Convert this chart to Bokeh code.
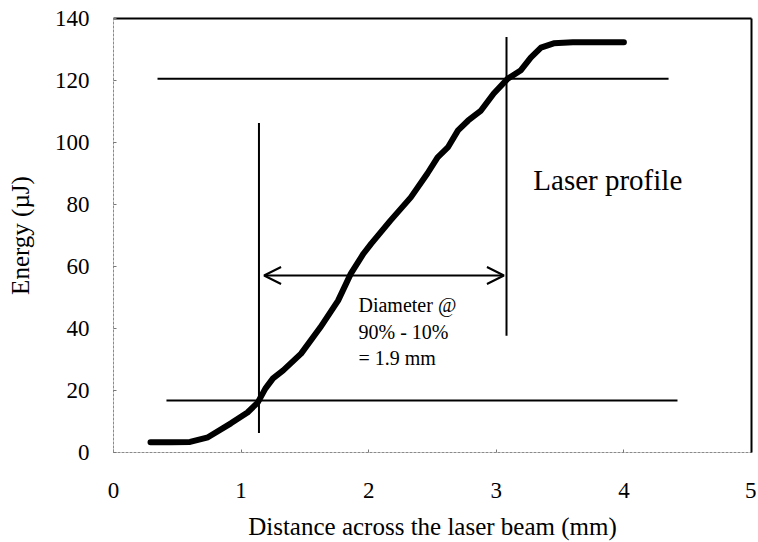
from bokeh.plotting import figure
from bokeh.models import (LinearAxis, FixedTicker, Range1d, Arrow, OpenHead,
                          Label)
from bokeh.embed import file_html
from bokeh.resources import INLINE

# ---- data ----
dist_mm = [0.29, 0.45, 0.60, 0.74, 0.92, 1.05, 1.13, 1.19, 1.25, 1.33, 1.47,
           1.62, 1.76, 1.86, 1.96, 2.02, 2.17, 2.33, 2.46, 2.54, 2.62, 2.70,
           2.78, 2.88, 2.98, 3.09, 3.19, 3.27, 3.35, 3.45, 3.60, 4.00]
energy_uj = [3.3, 3.3, 3.4, 4.9, 9.4, 12.9, 16.1, 20.6, 23.9, 26.5, 31.9,
             40.3, 49.0, 57.7, 64.2, 67.4, 74.8, 82.3, 90.0, 95.2, 98.4, 103.9,
             107.1, 110.3, 115.8, 120.6, 123.2, 127.4, 130.6, 132.0, 132.3, 132.3]

# 90 % and 10 % levels (horizontal guide lines)
level_y = [120.6, 16.8]
level_x0 = [0.345, 0.415]
level_x1 = [4.35, 4.42]

# vertical guide lines at the crossing points
cross_x = [1.14, 3.08]
cross_y0 = [6.3, 37.7]
cross_y1 = [106.3, 134.0]

# diameter arrow
arrow_x = [1.18, 3.06]
arrow_y = 57.1

x_ticks = [0, 1, 2, 3, 4, 5]
y_ticks = [0, 20, 40, 60, 80, 100, 120, 140]

FONT = "serif"

p = figure(width=756, height=542, output_backend="svg", toolbar_location=None,
           x_range=Range1d(0, 5), y_range=Range1d(0, 140),
           min_border_left=113, min_border_right=5, min_border_top=18,
           min_border_bottom=90)
p.grid.visible = False
p.outline_line_color = None
p.background_fill_color = "white"
p.border_fill_color = "white"

# left / bottom axes
for ax, ticks in ((p.xaxis[0], x_ticks), (p.yaxis[0], y_ticks)):
    ax.ticker = FixedTicker(ticks=ticks)
    ax.axis_line_color = "#8a8a8a"
    ax.axis_line_width = 1
    ax.axis_line_dash = "3 1"
    ax.major_tick_in = 3
    ax.major_tick_out = 0
    ax.major_tick_line_color = "#777777"
    ax.minor_tick_line_color = None
    ax.major_label_text_font = FONT
    ax.major_label_text_font_size = "23px"
    ax.major_label_text_color = "black"
    ax.axis_label_text_font = FONT
    ax.axis_label_text_font_size = "25px"
    ax.axis_label_text_font_style = "normal"
    ax.axis_label_text_color = "black"

p.xaxis.axis_label = "Distance across the laser beam (mm)"
p.yaxis.axis_label = "Energy (\u00b5J)"
p.xaxis.major_label_standoff = 30
p.xaxis.axis_label_standoff = 12
p.yaxis.major_label_standoff = 24
p.yaxis.axis_label_standoff = 18

# top / right frame lines
for loc in ("above", "right"):
    ax = LinearAxis(ticker=FixedTicker(ticks=[]), axis_line_color="black",
                    axis_line_width=2, major_tick_line_color=None,
                    minor_tick_line_color=None,
                    major_label_text_font_size="0px")
    p.add_layout(ax, loc)

# guide lines
p.segment(x0=level_x0, y0=level_y, x1=level_x1, y1=level_y,
          line_color="black", line_width=2)
p.segment(x0=cross_x, y0=cross_y0, x1=cross_x, y1=cross_y1,
          line_color="black", line_width=2)

# profile curve
p.line(dist_mm, energy_uj, line_color="black", line_width=6,
       line_join="round", line_cap="round")

# double arrow
p.add_layout(Arrow(x_start=arrow_x[0], y_start=arrow_y,
                   x_end=arrow_x[1], y_end=arrow_y,
                   line_color="black", line_width=2,
                   start=OpenHead(size=17, line_width=2, line_color="black"),
                   end=OpenHead(size=17, line_width=2, line_color="black")))

p.add_layout(Label(x=1.92, y=51, text="Diameter @\n90% - 10%\n= 1.9 mm",
                   text_font=FONT, text_font_size="20px", text_color="black",
                   text_baseline="top", text_align="left",
                   text_line_height=1.2))
p.add_layout(Label(x=3.29, y=88, text="Laser profile", text_font=FONT,
                   text_font_size="29px", text_color="black",
                   text_baseline="middle", text_align="left"))

open("out.html", "w").write(file_html(p, INLINE))
